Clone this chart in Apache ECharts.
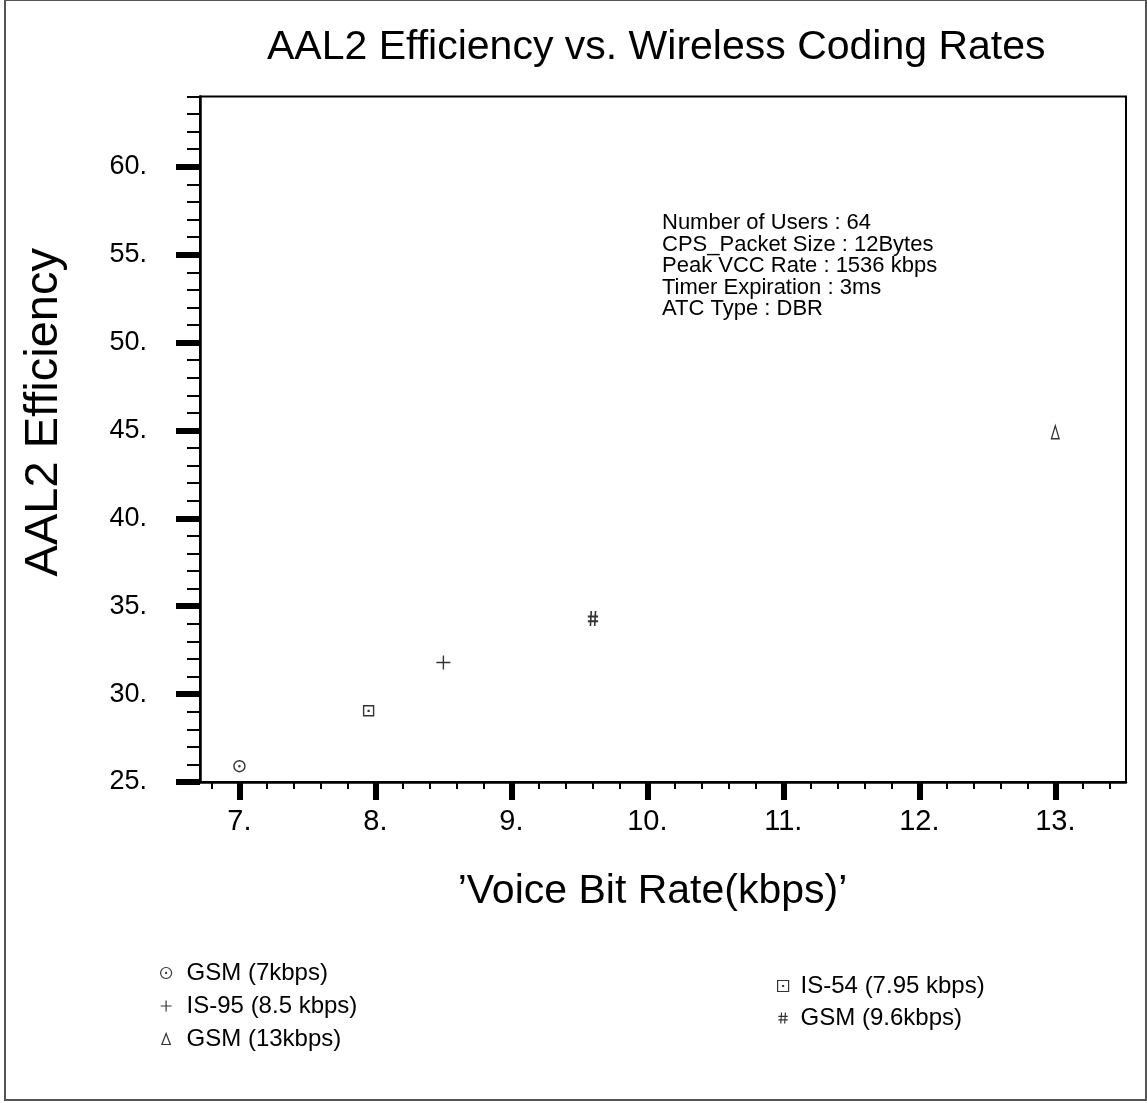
<!DOCTYPE html>
<html>
<head>
<meta charset="utf-8">
<script src="https://cdn.jsdelivr.net/npm/echarts@6/dist/echarts.min.js"></script>
<style>
html, body { margin: 0; padding: 0; background: #fff; }
#main { width: 1147px; height: 1103px; }
</style>
</head>
<body>
<div id="main"></div>
<script>
// data
var seriesNames = ['GSM (7kbps)', 'IS-54 (7.95 kbps)', 'IS-95 (8.5 kbps)', 'GSM (9.6kbps)', 'GSM (13kbps)'];
var bitRates = [7, 7.95, 8.5, 9.6, 13];
var efficiency = [25.9, 29.05, 31.8, 34.3, 44.9];

var xMajorTicks = [7, 8, 9, 10, 11, 12, 13];
var yMajorTicks = [25, 30, 35, 40, 45, 50, 55, 60];

var annotationLines = [
    'Number of Users : 64',
    'CPS_Packet Size : 12Bytes',
    'Peak VCC Rate : 1536 kbps',
    'Timer Expiration : 3ms',
    'ATC Type : DBR'
];

// minor tick positions
var xMinorTicks = [];
for (var i = 34; i <= 67; i++) {
    xMinorTicks.push(Math.round(i * 0.2 * 10) / 10);
}
var yMinorTicks = [];
for (var j = 25; j <= 64; j++) {
    yMinorTicks.push(j);
}

var fontFam = '"Liberation Sans", Arial, sans-serif';

var symbols = [
    'path://M10,5A5,5 0 1 1 0,5A5,5 0 1 1 10,5Z M5.5,5A0.5,0.5 0 1 1 4.5,5A0.5,0.5 0 1 1 5.5,5Z',
    'path://M0,0L10,0L10,10L0,10Z M4.6,4.6L5.4,4.6L5.4,5.4L4.6,5.4Z',
    'path://M0,7L14,7M7,0L7,14',
    'path://M4,0L3,14M9,0L8,14M0,5L12,5M0,9.5L12,9.5',
    'path://M5,0L10,13L0,13Z'
];
var symbolSizes = [[11, 11], [10, 10], [14, 14], [12, 15], [10, 13]];
var symbolWidths = [1.4, 1.4, 1.4, 1.8, 1.4];

var series = seriesNames.map(function (name, i) {
    return {
        name: name,
        type: 'scatter',
        symbol: symbols[i],
        symbolSize: symbolSizes[i],
        symbolKeepAspect: true,
        itemStyle: {
            color: 'rgba(0,0,0,0)',
            borderColor: '#000',
            borderWidth: symbolWidths[i]
        },
        emphasis: { disabled: true },
        data: [[bitRates[i], efficiency[i]]]
    };
});

var chart = echarts.init(document.getElementById('main'));

var option = {
    backgroundColor: '#fff',
    animation: false,
    title: {
        text: 'AAL2 Efficiency vs. Wireless Coding Rates',
        left: 262,
        top: 22,
        textStyle: { fontSize: 41, fontWeight: 'normal', color: '#000', fontFamily: fontFam }
    },
    grid: {
        left: 200, right: 21, top: 96.5, bottom: 321,
        show: true, borderColor: '#000', borderWidth: 2
    },
    xAxis: [{
        type: 'value',
        min: 6.71,
        max: 13.52,
        position: 'bottom',
        name: '\u2019Voice Bit Rate(kbps)\u2019',
        nameLocation: 'middle',
        nameGap: 89,
        nameTextStyle: { fontSize: 41, color: '#000', fontFamily: fontFam, padding: [0, 21, 0, 0] },
        axisLine: { show: true, onZero: false, lineStyle: { color: '#000', width: 2.5 } },
        axisTick: { show: true, customValues: xMajorTicks, length: 18, lineStyle: { color: '#000', width: 6 } },
        axisLabel: {
            customValues: xMajorTicks,
            formatter: function (v) { return v + '.'; },
            fontSize: 29, color: '#000', fontFamily: fontFam, margin: 25
        },
        splitLine: { show: false }
    }, {
        type: 'value',
        min: 6.71,
        max: 13.52,
        position: 'bottom',
        axisLine: { show: false },
        axisTick: { show: true, customValues: xMinorTicks, length: 7, lineStyle: { color: '#000', width: 2 } },
        axisLabel: { show: false },
        splitLine: { show: false }
    }],
    yAxis: [{
        type: 'value',
        min: 25,
        max: 64,
        position: 'left',
        name: 'AAL2 Efficiency',
        nameLocation: 'middle',
        nameRotate: 90,
        nameGap: 132,
        nameTextStyle: { fontSize: 47, color: '#000', fontFamily: fontFam, padding: [0, 0, 0, 54] },
        axisLine: { show: true, onZero: false, lineStyle: { color: '#000', width: 2.5 } },
        axisTick: { show: true, customValues: yMajorTicks, length: 24, lineStyle: { color: '#000', width: 6 } },
        axisLabel: {
            customValues: yMajorTicks,
            formatter: function (v) { return v + '.'; },
            fontSize: 27, color: '#000', fontFamily: fontFam, margin: 53
        },
        splitLine: { show: false }
    }, {
        type: 'value',
        min: 25,
        max: 64,
        position: 'left',
        axisLine: { show: false },
        axisTick: { show: true, customValues: yMinorTicks, length: 13, lineStyle: { color: '#000', width: 2 } },
        axisLabel: { show: false },
        splitLine: { show: false }
    }],
    legend: [{
        data: [seriesNames[0], seriesNames[2], seriesNames[4]],
        orient: 'vertical',
        left: 155, top: 956,
        itemWidth: 25, itemHeight: 11, itemGap: 9,
        selectedMode: false,
        itemStyle: { borderWidth: 1.2 },
        textStyle: { fontSize: 24, color: '#000', fontFamily: fontFam, padding: [0, 0, 0, 3] }
    }, {
        data: [seriesNames[1], seriesNames[3]],
        orient: 'vertical',
        left: 772, top: 969,
        itemWidth: 25, itemHeight: 11, itemGap: 8,
        selectedMode: false,
        itemStyle: { borderWidth: 1.2 },
        textStyle: { fontSize: 24, color: '#000', fontFamily: fontFam }
    }],
    graphic: [{
        type: 'text',
        left: 662,
        top: 212,
        style: {
            text: annotationLines.join('\n'),
            fontSize: 22,
            fontFamily: fontFam,
            lineHeight: 21.5,
            fill: '#000'
        }
    }, {
        type: 'rect',
        shape: { x: 5, y: 0, width: 1141, height: 1100 },
        style: { fill: 'none', stroke: '#555', lineWidth: 2 },
        silent: true
    }],
    series: series
};

chart.setOption(option);
</script>
</body>
</html>
